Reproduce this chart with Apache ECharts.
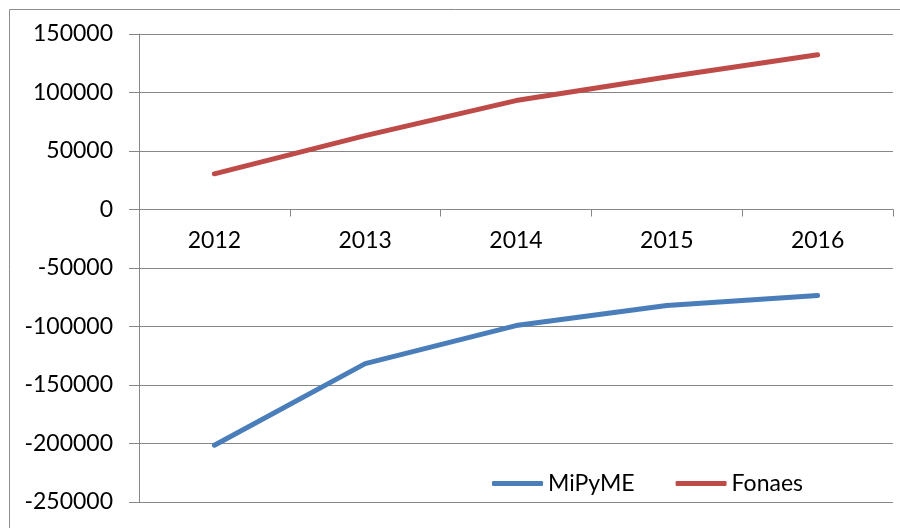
<!DOCTYPE html>
<html>
<head>
<meta charset="utf-8">
<script src="https://cdn.jsdelivr.net/npm/echarts@6/dist/echarts.min.js"></script>
<style>
  html, body { margin: 0; padding: 0; background: #fff; }
  #chart { width: 900px; height: 528px; }
</style>
</head>
<body>
<div id="chart"></div>
<script>
// Years on the category axis
var years = ['2012', '2013', '2014', '2015', '2016'];
// Series values
var mipymeValues = [-201500, -131700, -99200, -82000, -73500];
var fonaesValues = [30500, 63200, 93100, 113300, 132200];
// Value axis range
var yMin = -250000;
var yMax = 150000;
var yStep = 50000;

var FONT = 'Lato, "Open Sans", sans-serif';
var FONT_SIZE = 23;
var GRID_GRAY = '#878787';

var chart = echarts.init(document.getElementById('chart'), null, { renderer: 'canvas' });

chart.setOption({
  animation: false,
  backgroundColor: '#ffffff',
  textStyle: { fontFamily: FONT },
  graphic: [{
    type: 'rect',
    left: 7, top: 7,
    shape: { width: 900, height: 540 },
    style: { fill: 'none', stroke: '#8c8c8c', lineWidth: 1 },
    z: -1
  }],
  grid: { left: 139, right: 7, top: 34, bottom: 26, containLabel: false, outerBoundsMode: 'none' },
  legend: {
    left: 487,
    top: 467,
    itemWidth: 51,
    itemHeight: 5,
    itemGap: 41,
    icon: 'roundRect',
    textStyle: { fontFamily: FONT, fontSize: FONT_SIZE, color: '#000' },
    data: ['MiPyME', 'Fonaes']
  },
  xAxis: {
    type: 'category',
    data: years,
    position: 'bottom',
    offset: 0,
    boundaryGap: true,
    axisLine: { show: true, onZero: false, lineStyle: { color: GRID_GRAY, width: 1 } },
    axisTick: { show: true, length: 7, lineStyle: { color: GRID_GRAY } },
    axisLabel: { margin: 20, fontFamily: FONT, fontSize: FONT_SIZE, color: '#000' },
    splitLine: { show: false }
  },
  yAxis: {
    type: 'value',
    min: yMin,
    max: yMax,
    interval: yStep,
    axisLine: { show: true, lineStyle: { color: GRID_GRAY, width: 1 } },
    axisTick: { show: true, length: 10, lineStyle: { color: GRID_GRAY } },
    axisLabel: {
      margin: 26, fontFamily: FONT, fontSize: FONT_SIZE, color: '#000',
      formatter: function (v) { return String(v); }
    },
    splitLine: { show: true, lineStyle: { color: GRID_GRAY, width: 1 } }
  },
  series: [
    {
      name: 'MiPyME',
      type: 'line',
      data: mipymeValues,
      symbol: 'none',
      color: '#4A7EBB',
      lineStyle: { width: 5, color: '#4A7EBB', cap: 'round', join: 'round' }
    },
    {
      name: 'Fonaes',
      type: 'line',
      data: fonaesValues,
      symbol: 'none',
      color: '#BE4B48',
      lineStyle: { width: 5, color: '#BE4B48', cap: 'round', join: 'round' }
    }
  ]
});

// Lift the category axis (line, ticks and labels) onto the zero value line
var zeroY = chart.convertToPixel({ yAxisIndex: 0 }, 0);
var bottomY = chart.convertToPixel({ yAxisIndex: 0 }, yMin);
chart.setOption({ xAxis: { offset: zeroY - bottomY } });
</script>
</body>
</html>
